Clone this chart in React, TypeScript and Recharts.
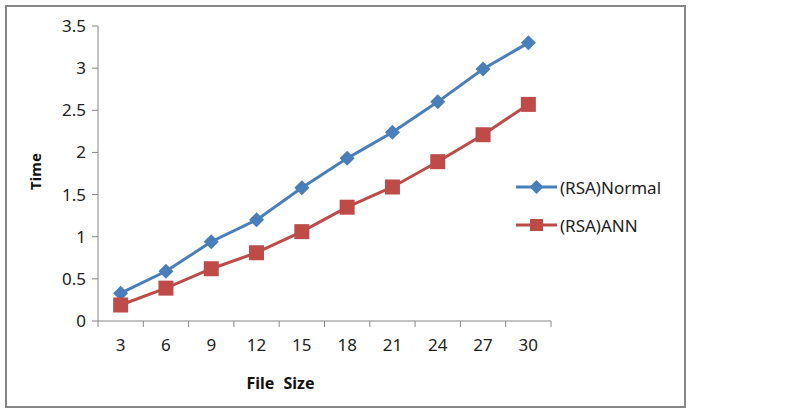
import React from 'react';
import { LineChart, Line, XAxis, YAxis, ReferenceLine } from 'recharts';

const fileSizes = [3, 6, 9, 12, 15, 18, 21, 24, 27, 30];
const normalTimes = [0.33, 0.59, 0.94, 1.2, 1.58, 1.93, 2.24, 2.6, 2.99, 3.3];
const annTimes = [0.19, 0.39, 0.62, 0.81, 1.06, 1.35, 1.59, 1.89, 2.21, 2.57];
const yTicks = [0, 0.5, 1, 1.5, 2, 2.5, 3, 3.5];
// category boundaries, where Excel puts the x tick marks
const boundaryTicks = [1.5, 4.5, 7.5, 10.5, 13.5, 16.5, 19.5, 22.5, 25.5, 28.5, 31.5];

const BLUE = '#4A7EBB';
const RED = '#BE4B48';
const AXIS = '#868686';
const FONT = '"Noto Sans", "Open Sans", sans-serif';

const data = fileSizes.map((size, i) => ({
  size,
  normal: normalTimes[i],
  ann: annTimes[i],
}));

const Diamond = (props: any) => {
  const { cx, cy } = props;
  if (cx == null || cy == null) return null;
  const r = 7.5;
  return (
    <polygon
      points={`${cx},${cy - r} ${cx + r},${cy} ${cx},${cy + r} ${cx - r},${cy}`}
      fill={BLUE}
    />
  );
};

const Square = (props: any) => {
  const { cx, cy } = props;
  if (cx == null || cy == null) return null;
  const s = 15;
  return <rect x={cx - s / 2} y={cy - s / 2} width={s} height={s} fill={RED} />;
};

const legendItems = [
  { label: '(RSA)Normal', color: BLUE, shape: 'diamond' },
  { label: '(RSA)ANN', color: RED, shape: 'square' },
];

function ChartLegend() {
  return (
    <div
      style={{
        position: 'absolute',
        left: 516,
        top: 168,
        fontFamily: FONT,
        fontSize: 17,
        color: '#222',
      }}
    >
      {legendItems.map((it) => (
        <div key={it.label} style={{ display: 'flex', alignItems: 'center', height: 38 }}>
          <svg width={41} height={16} style={{ marginRight: 3 }}>
            <line x1={0} y1={8} x2={41} y2={8} stroke={it.color} strokeWidth={3} />
            {it.shape === 'diamond' ? (
              <polygon points="20.5,1 27.5,8 20.5,15 13.5,8" fill={it.color} />
            ) : (
              <rect x={14} y={2} width={13} height={12} fill={it.color} />
            )}
          </svg>
          <span>{it.label}</span>
        </div>
      ))}
    </div>
  );
}

export default function App() {
  return (
    <div style={{ position: 'fixed', left: 0, top: 0, width: 793, height: 412, background: '#fff' }}>
      <div style={{ position: 'absolute', left: 0, top: 0 }}>
        <LineChart
          width={793}
          height={412}
          data={data}
          margin={{ top: 26, right: 242, bottom: 0, left: 0 }}
        >
          <XAxis
            dataKey="size"
            type="number"
            domain={[1.5, 31.5]}
            ticks={fileSizes}
            stroke={AXIS}
            tickLine={false}
            tickSize={6}
            tickMargin={12}
            height={91}
            tick={{ fill: '#222', fontSize: 17, fontFamily: FONT }}
            label={{
              value: 'File Size',
              position: 'insideBottom',
              offset: 23,
              dx: -44,
              style: { fontFamily: FONT, fontSize: 16, fontWeight: 'bold', fill: '#111', wordSpacing: 5 },
            }}
          />
          <YAxis
            domain={[0, 3.5]}
            ticks={yTicks}
            width={98}
            stroke={AXIS}
            tickSize={6}
            tickMargin={6}
            tick={{ fill: '#222', fontSize: 17, fontFamily: FONT }}
            label={{
              value: 'Time',
              angle: -90,
              position: 'insideLeft',
              offset: 36,
              dy: -2,
              style: { fontFamily: FONT, fontSize: 15, fontWeight: 'bold', fill: '#111', textAnchor: 'middle' },
            }}
          />
          {boundaryTicks.map((b) => (
            <ReferenceLine
              key={b}
              segment={[
                { x: b, y: 0 },
                { x: b, y: -0.07 },
              ]}
              stroke={AXIS}
              ifOverflow="visible"
            />
          ))}
          <Line
            dataKey="normal"
            name="(RSA)Normal"
            stroke={BLUE}
            strokeWidth={3}
            dot={<Diamond />}
            activeDot={false}
            isAnimationActive={false}
          />
          <Line
            dataKey="ann"
            name="(RSA)ANN"
            stroke={RED}
            strokeWidth={3}
            dot={<Square />}
            activeDot={false}
            isAnimationActive={false}
          />
        </LineChart>
      </div>
      <ChartLegend />
      <div
        style={{
          position: 'absolute',
          left: 5,
          top: 5,
          width: 677,
          height: 399,
          border: `2px solid ${AXIS}`,
          pointerEvents: 'none',
        }}
      />
    </div>
  );
}
